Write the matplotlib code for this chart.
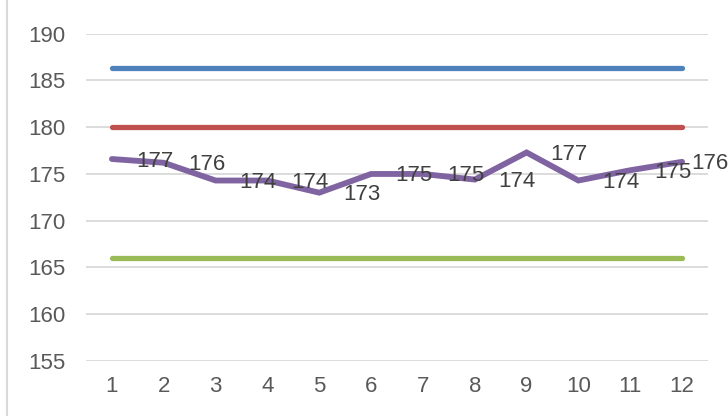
import matplotlib
matplotlib.use("Agg")
import matplotlib.pyplot as plt
from matplotlib.patches import Rectangle

plt.rcParams['font.family'] = ['Liberation Sans', 'DejaVu Sans']

x = list(range(1, 13))
upper_limit = [186.3] * 12
target = [180.0] * 12
lower_limit = [166.0] * 12
values = [176.6, 176.2, 174.3, 174.3, 173.0, 175.0, 175.0, 174.4, 177.3, 174.3, 175.4, 176.3]
labels = ["177", "176", "174", "174", "173", "175", "175", "174", "177", "174", "175", "176"]
yticks = [155, 160, 165, 170, 175, 180, 185, 190]

fig = plt.figure(figsize=(7.28, 4.16), dpi=100)
ax = fig.add_axes([86/728, 1-361/416, (708-86)/728, (361-33.7)/416])

fig.patches.append(Rectangle((7/728, -0.2), 1.2, 1.2 + (1-4/416), transform=fig.transFigure,
                             fill=False, edgecolor='#d9d9d9', linewidth=1.5))

ax.set_xlim(0.5, 12.5)
ax.set_ylim(155, 190)
ax.set_yticks(yticks)
ax.set_xticks(x)
ax.grid(axis='y', color='#d9d9d9', linewidth=1.3)
ax.set_axisbelow(True)
for s in ax.spines.values():
    s.set_visible(False)
ax.tick_params(length=0, labelsize=16, colors='#595959')
ax.tick_params(axis='y', pad=15)
ax.tick_params(axis='x', pad=11)

lw = 3.8
ax.plot(x, upper_limit, color='#4F81BD', linewidth=lw, solid_capstyle='round')
ax.plot(x, target, color='#C0504D', linewidth=lw, solid_capstyle='round')
ax.plot(x, lower_limit, color='#9BBB59', linewidth=lw, solid_capstyle='round')
ax.plot(x, values, color='#8064A2', linewidth=4.2, solid_capstyle='round', solid_joinstyle='miter')

for i, (xi, yi, lab) in enumerate(zip(x, values, labels)):
    dx = 24 if i < len(x) - 1 else 9
    ax.annotate(lab, (xi, yi), xytext=(dx, -2), textcoords='offset pixels',
                ha='left', va='center', fontsize=16, color='#404040', annotation_clip=False)

fig.savefig('out.png', dpi=100)
